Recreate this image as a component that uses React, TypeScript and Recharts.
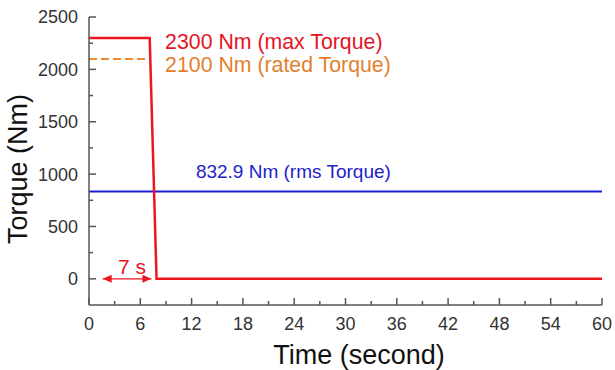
import React from "react";
import { LineChart, Line, XAxis, YAxis, ReferenceDot } from "recharts";

// torque profile
const maxTime = [0, 7.1, 7.9, 60];
const maxValue = [2300, 2300, 0, 0];
const ratedTime = [0, 7];
const ratedValue = [2100, 2100];
const rmsTime = [0, 60];
const rmsValue = [832.9, 832.9];
const spanTime = [1.6, 7.3];
const spanValue = [0, 0];

const xTicks = [0, 3, 6, 9, 12, 15, 18, 21, 24, 27, 30, 33, 36, 39, 42, 45, 48, 51, 54, 57, 60];
const yTicks = [0, 250, 500, 750, 1000, 1250, 1500, 1750, 2000, 2250, 2500];

const notes = [
  { t: 8.9, v: 2265, text: "2300 Nm (max Torque)", color: "#e5141f", size: 21.3 },
  { t: 8.9, v: 2045, text: "2100 Nm (rated Torque)", color: "#e3802e", size: 21.3 },
  { t: 12.5, v: 1030, text: "832.9 Nm (rms Torque)", color: "#2323c8", size: 19 },
  { t: 3.4, v: 115, text: "7 s", color: "#e5141f", size: 21 },
];

const toRows = (ts: number[], vs: number[]) => ts.map((t, i) => ({ t, v: vs[i] }));

const RED = "#ec1620";
const ORANGE = "#f08a2c";
const BLUE = "#1b1bd6";
const AXIS = "#555";
const FONT = "'Liberation Sans', Arial, sans-serif";

const XTick = (props: any) => {
  const { x, y, payload } = props;
  const major = payload.value % 6 === 0;
  return (
    <g>
      <line x1={x} x2={x} y1={y} y2={y - (major ? 7 : 4)} stroke={AXIS} strokeWidth={1.5} />
      {major && (
        <text x={x} y={y + 25} textAnchor="middle" fontSize={18} fill="#333" fontFamily={FONT}>
          {payload.value}
        </text>
      )}
    </g>
  );
};

const YTick = (props: any) => {
  const { x, y, payload } = props;
  const major = payload.value % 500 === 0;
  return (
    <g>
      <line x1={x} x2={x + (major ? 7 : 4)} y1={y} y2={y} stroke={AXIS} strokeWidth={1.5} />
      {major && (
        <text x={x - 11} y={y} dy="0.36em" textAnchor="end" fontSize={18} fill="#333" fontFamily={FONT}>
          {payload.value}
        </text>
      )}
    </g>
  );
};

const ArrowHead = (props: any) => {
  const { cx, cy, index } = props;
  const d = index === 0 ? -1 : 1;
  return (
    <path
      key={`arrow-${index}`}
      d={`M${cx},${cy} L${cx - d * 9},${cy - 4} L${cx - d * 9},${cy + 4} Z`}
      fill={RED}
    />
  );
};

export default function App() {
  return (
    <div style={{ position: "absolute", left: 0, top: 0, width: 615, height: 370, background: "#fff" }}>
      <LineChart width={615} height={370} margin={{ top: 17, right: 13, bottom: 0, left: 0 }}>
        <XAxis
          dataKey="t"
          type="number"
          domain={[0, 60]}
          ticks={xTicks}
          interval={0}
          height={65}
          tickSize={0}
          tickMargin={0}
          tickLine={false}
          tick={<XTick />}
          axisLine={{ stroke: AXIS, strokeWidth: 1.5 }}
          label={{
            content: () => (
              <text x={359} y={364} textAnchor="middle" fontSize={27} fill="#111" fontFamily={FONT}>
                Time (second)
              </text>
            ),
          }}
        />
        <XAxis
          xAxisId="top"
          orientation="top"
          type="number"
          domain={[0, 60]}
          height={0}
          tick={false}
          tickLine={false}
          axisLine={{ stroke: AXIS, strokeWidth: 1.5 }}
        />
        <YAxis
          type="number"
          domain={[-250, 2500]}
          ticks={yTicks}
          interval={0}
          width={89}
          tickSize={0}
          tickMargin={0}
          tickLine={false}
          tick={<YTick />}
          axisLine={{ stroke: AXIS, strokeWidth: 1.5 }}
          label={{
            content: () => (
              <text
                x={27}
                y={169}
                transform="rotate(-90 27 169)"
                textAnchor="middle"
                fontSize={27}
                fill="#111"
                fontFamily={FONT}
              >
                Torque (Nm)
              </text>
            ),
          }}
        />
        <YAxis
          yAxisId="right"
          orientation="right"
          type="number"
          domain={[-250, 2500]}
          width={0}
          tick={false}
          tickLine={false}
          axisLine={{ stroke: AXIS, strokeWidth: 1.5 }}
        />

        <Line
          data={toRows(rmsTime, rmsValue)}
          dataKey="v"
          stroke={BLUE}
          strokeWidth={2}
          dot={false}
          activeDot={false}
          isAnimationActive={false}
        />
        <Line
          data={toRows(ratedTime, ratedValue)}
          dataKey="v"
          stroke={ORANGE}
          strokeWidth={2}
          strokeDasharray="8 4"
          dot={false}
          activeDot={false}
          isAnimationActive={false}
        />
        <Line
          data={toRows(maxTime, maxValue)}
          dataKey="v"
          stroke={RED}
          strokeWidth={2.5}
          dot={false}
          activeDot={false}
          isAnimationActive={false}
        />
        <Line
          data={toRows(spanTime, spanValue)}
          dataKey="v"
          stroke={RED}
          strokeWidth={1.2}
          dot={<ArrowHead />}
          activeDot={false}
          isAnimationActive={false}
        />

        {notes.map((n) => (
          <ReferenceDot
            key={n.text}
            x={n.t}
            y={n.v}
            r={0}
            shape={(p: any) => (
              <text x={p.cx} y={p.cy} dy="0.36em" fontSize={n.size} fill={n.color} fontFamily={FONT}>
                {n.text}
              </text>
            )}
          />
        ))}
      </LineChart>
    </div>
  );
}
